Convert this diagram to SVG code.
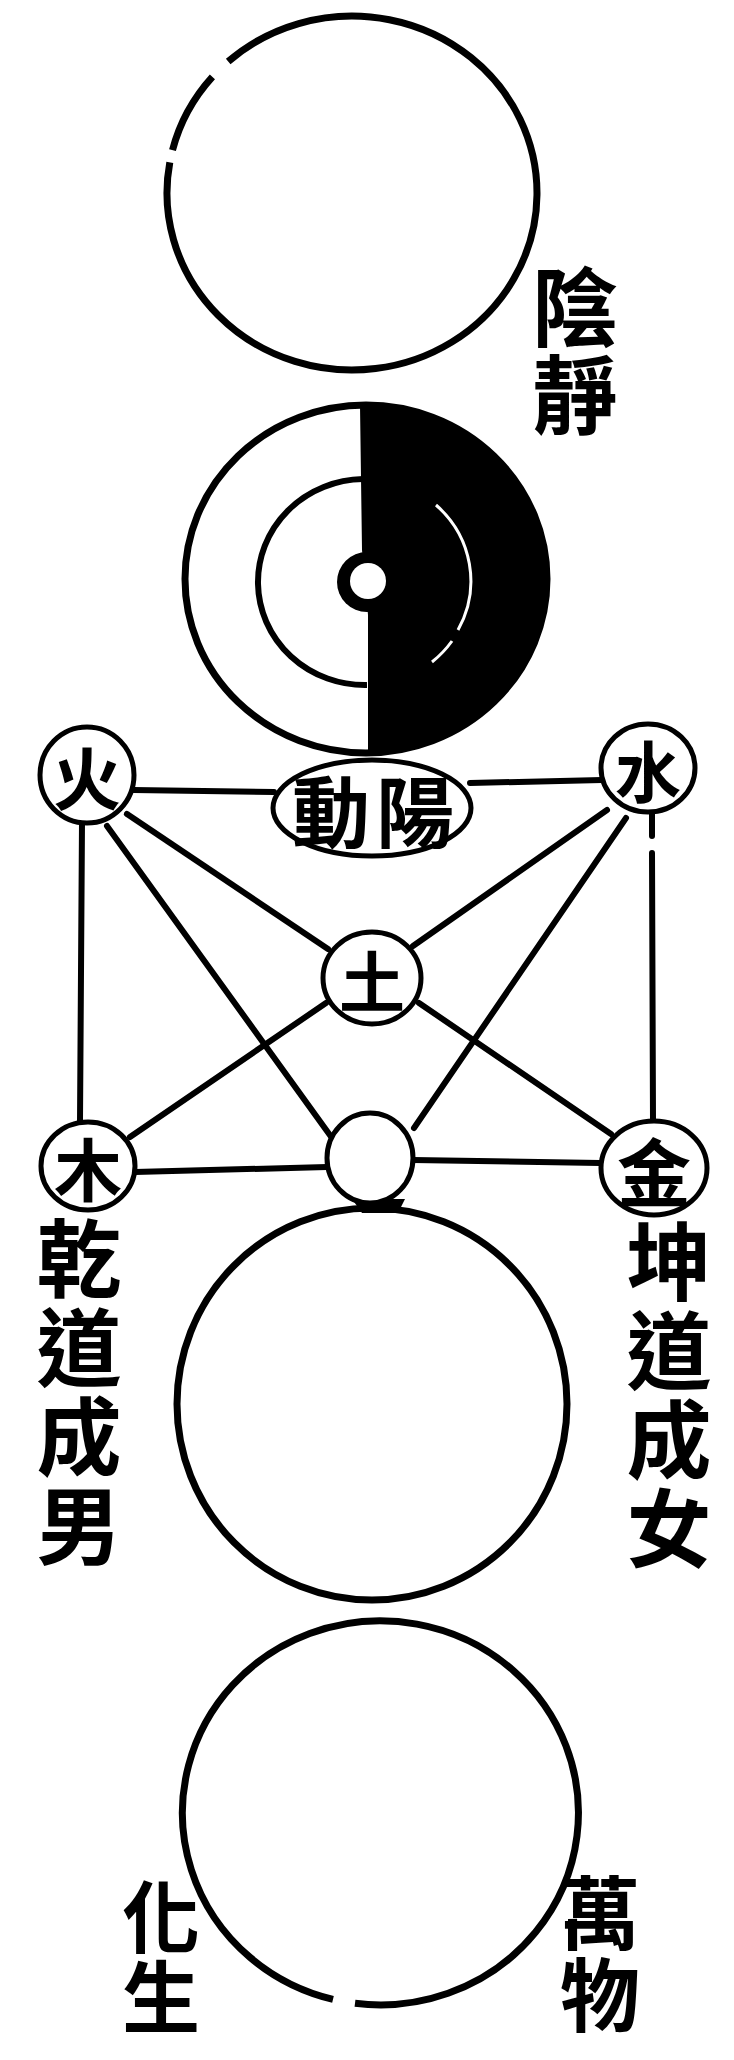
<svg xmlns="http://www.w3.org/2000/svg" width="734" height="2060" viewBox="0 0 734 2060">
<style>
.ring{fill:none;stroke:#000;stroke-width:7}
.node{fill:#fff;stroke:#000;stroke-width:5}
.edge{fill:none;stroke:#000;stroke-width:6;stroke-linecap:round}
.ch{font-family:"Noto Sans CJK TC","Noto Sans CJK SC",sans-serif;font-weight:bold;fill:#000;text-anchor:middle;dominant-baseline:central}
.vt{font-family:"Noto Sans CJK TC","Noto Sans CJK SC",sans-serif;font-weight:bold;fill:#000;text-anchor:middle;writing-mode:vertical-rl}
</style>
<rect x="0" y="0" width="734" height="2060" fill="#fff"/>

<g id="connectors">
  <line class="edge" x1="133" y1="790" x2="274" y2="792"/>
  <line class="edge" x1="470" y1="783" x2="602" y2="780"/>
  <line class="edge" x1="82" y1="822" x2="80" y2="1122"/>
  <line class="edge" x1="652" y1="811" x2="652" y2="836"/>
  <line class="edge" x1="652" y1="853" x2="653" y2="1121"/>
  <line class="edge" x1="127" y1="814" x2="328" y2="949"/>
  <line class="edge" x1="107" y1="826" x2="332" y2="1138"/>
  <line class="edge" x1="130" y1="1137" x2="326" y2="1003"/>
  <line class="edge" x1="607" y1="810" x2="413" y2="946"/>
  <line class="edge" x1="626" y1="818" x2="414" y2="1128"/>
  <line class="edge" x1="419" y1="1003" x2="611" y2="1134"/>
  <line class="edge" x1="135" y1="1172" x2="327" y2="1167"/>
  <line class="edge" x1="413" y1="1160" x2="600" y2="1163"/>
</g>

<g id="wuji">
  <path class="ring" d="M 228.2,61.5 A 185 177 0 1 1 169.8,162.3"/>
  <path class="ring" d="M 172.5,150.2 A 185 177 0 0 1 212.4,76.9"/>
</g>
<g id="label-yinjing">
  <text class="vt" x="575" y="352" font-size="86" letter-spacing="2">陰靜</text>
</g>

<g id="taiji">
  <ellipse cx="366" cy="579" rx="181" ry="174" fill="#fff"/>
  <path d="M 360,405.1 L 362,550 L 368,615 L 368,753 A 181 174 0 1 0 360,405.1 Z" fill="#000"/>
  <path d="M 363,479 A 107 103 0 0 0 367,685" fill="none" stroke="#000" stroke-width="6"/>
  <path d="M 436,505 A 107 103 0 0 1 458,630" fill="none" stroke="#fff" stroke-width="3"/>
  <path d="M 452,641 A 107 103 0 0 1 432,662" fill="none" stroke="#fff" stroke-width="3"/>
  <ellipse class="ring" cx="366" cy="579" rx="181" ry="174"/>
  <circle cx="367" cy="582" r="30" fill="#000"/>
  <circle cx="368" cy="581" r="18" fill="#fff"/>
</g>

<g id="yangdong">
  <ellipse class="node" cx="372" cy="808" rx="99" ry="48"/>
  <text class="ch" x="331" y="808" font-size="78">動</text>
  <text class="ch" x="415" y="808" font-size="78">陽</text>
</g>

<g id="fire">
  <ellipse class="node" cx="87" cy="775" rx="47" ry="48"/>
  <text class="ch" x="87" y="775" font-size="68">火</text>
</g>
<g id="water">
  <ellipse class="node" cx="648" cy="768" rx="47" ry="44"/>
  <text class="ch" x="648" y="768" font-size="66">水</text>
</g>
<g id="earth">
  <ellipse class="node" cx="372" cy="978" rx="49" ry="46"/>
  <text class="ch" x="372" y="978" font-size="66">土</text>
</g>
<g id="wood">
  <ellipse class="node" cx="88" cy="1166" rx="47" ry="44"/>
  <text class="ch" x="88" y="1166" font-size="68">木</text>
</g>
<g id="metal">
  <ellipse class="node" cx="654" cy="1168" rx="53" ry="47"/>
  <text class="ch" x="654" y="1168" font-size="74">金</text>
</g>
<g id="empty">
  <path d="M 352,1199 L 405,1199 L 398,1213 L 362,1213 Z" fill="#000"/>
  <ellipse class="node" cx="370" cy="1158" rx="43" ry="45"/>
</g>

<g id="qiankun">
  <ellipse class="ring" cx="372" cy="1404" rx="195" ry="196"/>
</g>
<g id="label-qian">
  <text class="vt" x="79" y="1394" font-size="85" letter-spacing="4">乾道成男</text>
</g>
<g id="label-kun">
  <text class="vt" x="669" y="1397" font-size="85" letter-spacing="4">坤道成女</text>
</g>

<g id="wanwu">
  <path class="ring" d="M 355,2003.3 A 198 192 0 1 0 333,1999.3"/>
</g>
<g id="label-huasheng">
  <text class="vt" x="161" y="1958" font-size="78" letter-spacing="2">化生</text>
</g>
<g id="label-wanwu">
  <text class="vt" x="600" y="1955" font-size="80" letter-spacing="2">萬物</text>
</g>
</svg>
